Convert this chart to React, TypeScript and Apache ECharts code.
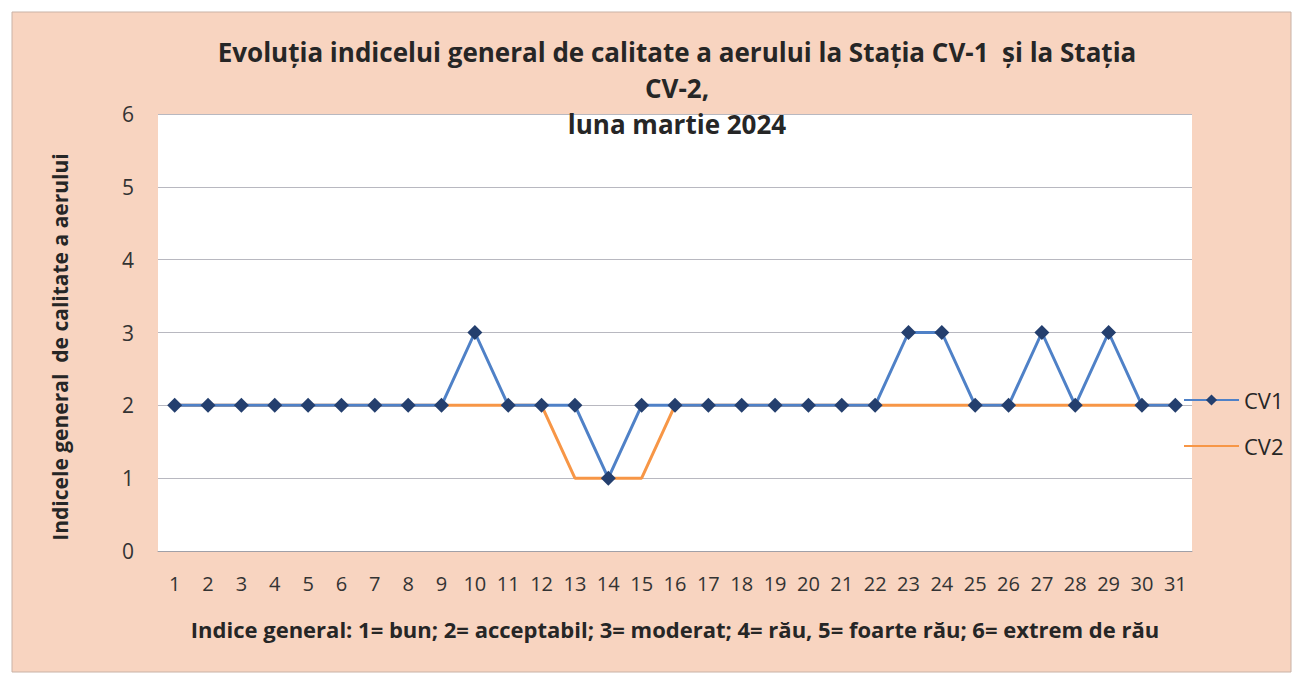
import React, { useEffect, useRef } from "react";
import * as echarts from "echarts";

const days = Array.from({ length: 31 }, (_, i) => String(i + 1));
const cv1 = [2, 2, 2, 2, 2, 2, 2, 2, 2, 3, 2, 2, 2, 1, 2, 2, 2, 2, 2, 2, 2, 2, 3, 3, 2, 2, 3, 2, 3, 2, 2];
const cv2 = [2, 2, 2, 2, 2, 2, 2, 2, 2, 2, 2, 2, 1, 1, 1, 2, 2, 2, 2, 2, 2, 2, 2, 2, 2, 2, 2, 2, 2, 2, 2];
const titleLines = [
  "Evoluția indicelui general de calitate a aerului la Stația CV-1  și la Stația",
  "CV-2,",
  "luna martie 2024",
];
const yName = "Indicele general  de calitate a aerului";
const xName = "Indice general: 1= bun; 2= acceptabil; 3= moderat; 4= rău, 5= foarte rău; 6= extrem de rău";

const FONT = "'Open Sans', 'Noto Sans', sans-serif";

export default function App() {
  const ref = useRef<HTMLDivElement>(null);
  useEffect(() => {
    const chart = echarts.init(ref.current!, null, { renderer: "svg" });
    chart.setOption({
      animation: false,
      backgroundColor: "#ffffff",
      graphic: [
        {
          type: "rect",
          z: -10,
          shape: { x: 12, y: 12, width: 1279, height: 660 },
          style: { fill: "#f8d4c0", stroke: "#c9b2a6", lineWidth: 1 },
        },
        {
          type: "text",
          x: 677,
          y: 34,
          z: 10,
          style: {
            text: titleLines.join("\n"),
            fill: "#262626",
            font: `bold 26px ${FONT}`,
            lineHeight: 36,
            textAlign: "center",
            textVerticalAlign: "top",
          },
        },
        {
          type: "text",
          x: 60,
          y: 347,
          rotation: Math.PI / 2,
          z: 10,
          style: {
            text: yName,
            fill: "#262626",
            font: `bold 21px ${FONT}`,
            textAlign: "center",
            textVerticalAlign: "middle",
          },
        },
      ],
      grid: {
        left: 158,
        top: 114,
        right: 106,
        bottom: 130,
        show: true,
        backgroundColor: "#ffffff",
        borderWidth: 0,
      },
      legend: {
        orient: "vertical",
        left: 1178,
        top: 384,
        itemWidth: 55,
        itemHeight: 14,
        itemGap: 24,
        textStyle: { fontSize: 22, color: "#262626", fontFamily: FONT },
        data: ["CV1", { name: "CV2", itemStyle: { opacity: 0 } }],
      },
      xAxis: {
        type: "category",
        data: days,
        boundaryGap: true,
        axisLine: { show: true, lineStyle: { color: "#a0a0a8" } },
        axisTick: { show: false },
        axisLabel: { color: "#333333", fontSize: 20, margin: 22, fontFamily: FONT, interval: 0 },
        name: xName,
        nameLocation: "middle",
        nameGap: 67,
        nameTextStyle: { fontSize: 22, fontWeight: "bold", color: "#262626", fontFamily: FONT },
      },
      yAxis: {
        type: "value",
        min: 0,
        max: 6,
        interval: 1,
        axisLine: { show: false },
        axisTick: { show: false },
        axisLabel: { color: "#333333", fontSize: 21, margin: 24, fontFamily: FONT },
        splitLine: { lineStyle: { color: "#b8b8c0", width: 1 } },
      },
      series: [
        {
          name: "CV1",
          type: "line",
          data: cv1,
          symbol: "diamond",
          symbolSize: 15,
          z: 3,
          lineStyle: { color: "#4f81c7", width: 3 },
          itemStyle: { color: "#243f6e", borderWidth: 0 },
          color: "#4f81c7",
        },
        {
          name: "CV2",
          type: "line",
          data: cv2,
          symbol: "none",
          showSymbol: false,
          z: 2,
          lineStyle: { color: "#f79646", width: 3 },
          itemStyle: { color: "#f79646" },
          color: "#f79646",
        },
      ],
    });
    return () => chart.dispose();
  }, []);
  return (
    <div
      ref={ref}
      style={{ position: "absolute", left: 0, top: 0, width: 1298, height: 681 }}
    />
  );
}
